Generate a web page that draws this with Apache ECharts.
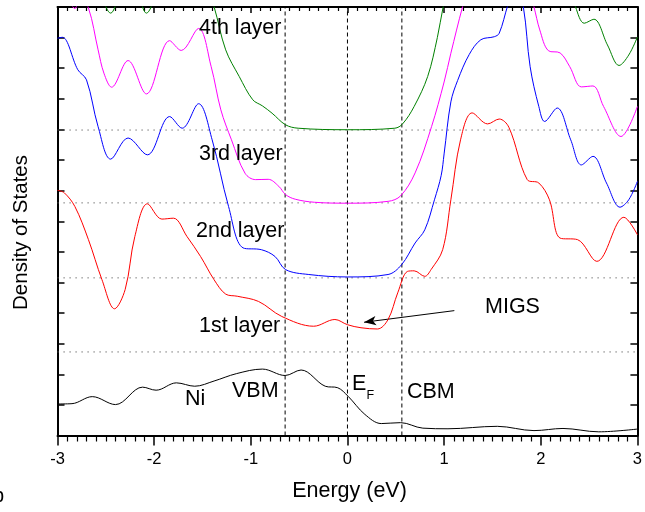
<!DOCTYPE html>
<html>
<head>
<meta charset="utf-8">
<style>html,body{margin:0;padding:0;background:#fff;}#main{width:645px;height:512px;}</style>
<script src="https://cdn.jsdelivr.net/npm/echarts@6/dist/echarts.min.js"></script>
</head>
<body>
<div id="main"></div>
<script>
// Energy axis ticks
const xTicks = [-3, -2, -1, 0, 1, 2, 3];
// Marker energies (eV)
const vbm = -0.645, ef = 0, cbm = 0.563;
// Baselines of the stacked layer curves (DOS units)
const baselines = [9.98, 7.60, 5.15, 2.73];

// Ni bulk DOS
const niCurve = [[-3,1.03],[-2.85,1.04],[-2.64,1.27],[-2.4,1.01],[-2.12,1.58],[-1.98,1.48],[-1.77,1.72],[-1.58,1.61],[-1.38,1.78],[-1.15,2.02],[-0.88,2.17],[-0.645,1.96],[-0.48,2.14],[-0.23,1.61],[-0.1,1.56],[0.007,1.28],[0.18,0.69],[0.35,0.39],[0.55,0.42],[0.78,0.24],[1.04,0.22],[1.55,0.30],[1.93,0.16],[2.23,0.23],[2.6,0.12],[3.0,0.21]];
// 1st layer
const layer1 = [[-3,8.01],[-2.93,7.93],[-2.82,7.48],[-2.68,6.40],[-2.54,5.09],[-2.41,4.14],[-2.3,4.77],[-2.2,6.50],[-2.07,7.57],[-1.92,7.07],[-1.8,7.10],[-1.66,6.50],[-1.52,5.85],[-1.38,5.09],[-1.26,4.62],[-1.14,4.55],[-0.92,4.38],[-0.68,3.89],[-0.35,3.57],[-0.13,3.79],[0,3.62],[0.14,3.52],[0.31,3.48],[0.42,3.79],[0.52,4.66],[0.62,5.36],[0.69,5.38],[0.80,5.20],[0.865,5.42],[0.985,6.07],[1.07,7.70],[1.17,9.66],[1.29,10.54],[1.45,10.18],[1.57,10.34],[1.67,10.07],[1.86,8.36],[1.98,8.25],[2.09,7.70],[2.2,6.45],[2.38,6.40],[2.58,5.69],[2.86,7.13],[3.0,6.56]];
// 2nd layer
const layer2 = [[-3,12.98],[-2.95,13.01],[-2.79,11.95],[-2.70,11.62],[-2.58,10.09],[-2.45,9.03],[-2.27,9.72],[-2.07,9.17],[-1.84,10.42],[-1.71,10.04],[-1.54,10.84],[-1.40,9.66],[-1.23,7.48],[-1.08,6.13],[-0.89,6.07],[-0.75,5.85],[-0.64,5.42],[-0.40,5.26],[0,5.18],[0.42,5.26],[0.56,5.58],[0.70,6.29],[0.80,6.72],[0.90,7.70],[0.97,8.5],[1.0,9.2],[1.07,10.9],[1.14,11.6],[1.26,12.45],[1.38,12.93],[1.52,13.03],[1.57,13.14],[1.66,14.07],[1.74,14.8],[1.82,14.0],[1.89,12.05],[1.98,10.75],[2.04,10.26],[2.17,10.70],[2.31,9.66],[2.42,8.84],[2.54,9.12],[2.68,8.25],[2.82,7.46],[2.91,7.70],[3.0,8.30]];
// 3rd layer
const layer3 = [[-3,15.5],[-2.9,14.5],[-2.82,13.95],[-2.76,14.25],[-2.68,13.97],[-2.58,12.6],[-2.52,11.84],[-2.44,11.38],[-2.27,12.25],[-2.08,11.16],[-1.84,12.90],[-1.72,12.58],[-1.54,13.30],[-1.41,12.05],[-1.31,10.64],[-1.20,9.66],[-1.06,8.57],[-0.95,8.36],[-0.82,8.37],[-0.71,8.14],[-0.64,7.87],[-0.54,7.72],[-0.34,7.62],[0,7.59],[0.42,7.65],[0.55,7.83],[0.70,8.58],[0.87,10.09],[1.0,11.55],[1.07,12.49],[1.19,14.0],[1.3,15.2],[1.8,15.5],[1.93,14.0],[1.99,13.25],[2.08,12.57],[2.2,12.5],[2.3,12.05],[2.42,11.39],[2.54,11.42],[2.65,10.75],[2.83,9.77],[3.0,10.75]];
// 4th layer
const layer4 = [[-3,17],[-2.7,15.5],[-2.55,14.4],[-2.45,13.8],[-2.35,14.4],[-2.26,14.7],[-2.17,14.4],[-2.08,13.8],[-1.98,14.4],[-1.8,15.8],[-1.55,15.5],[-1.45,14.6],[-1.38,14.01],[-1.26,12.6],[-1.12,11.73],[-0.98,10.97],[-0.88,10.77],[-0.78,10.53],[-0.64,10.15],[-0.51,10.04],[0,9.99],[0.49,10.04],[0.57,10.18],[0.69,10.75],[0.83,11.73],[0.93,13.0],[0.99,14.0],[1.1,15.5],[2.2,15.5],[2.36,14.0],[2.45,13.47],[2.55,13.6],[2.69,12.76],[2.81,12.09],[2.91,12.43],[3.0,13.02]];
// MIGS arrow (from, to) in data coords
const migsArrow = [[1.106, 4.08], [0.172, 3.70]];

const FONT = "'Liberation Sans', Arial, Helvetica, sans-serif";
const chart = echarts.init(document.getElementById('main'), null, {renderer: 'canvas'});

function curve(data, color, extra) {
  return Object.assign({
    type: 'line', data: data, showSymbol: false, symbol: 'none', smooth: 0.35,
    lineStyle: {color: color, width: 1}, xAxisIndex: 0, yAxisIndex: 0,
    clip: true, silent: true, z: 5
  }, extra || {});
}

const series = [];
baselines.forEach(function (b) {
  series.push({type: 'line', data: [[-3, b], [3, b]], symbol: 'none', silent: true,
    lineStyle: {color: '#555', width: 1, type: [1.2, 4.8]}, z: 2});
});
[vbm, ef, cbm].forEach(function (v) {
  series.push({type: 'line', data: [[v, 0], [v, 14]], symbol: 'none', silent: true,
    lineStyle: {color: '#000', width: 1, type: [4, 3]}, z: 3});
});
series.push(curve(niCurve, '#000000'));
series.push(curve(layer1, '#ff0000', {
  markLine: {
    silent: true, animation: false,
    symbol: ['none', 'arrow'], symbolSize: [7, 12],
    label: {show: false},
    lineStyle: {color: '#000', width: 1, type: 'solid'},
    data: [[{coord: migsArrow[0]}, {coord: migsArrow[1]}]]
  }
}));
series.push(curve(layer2, '#0000ff'));
series.push(curve(layer3, '#ff00ff'));
series.push(curve(layer4, '#008000'));

function txt(text, x, y, size, align) {
  return {type: 'text', x: x, y: y, z: 100, silent: true,
    style: {text: text, fill: '#000', fontSize: size, fontFamily: FONT,
      align: align || 'left', verticalAlign: 'middle'}};
}

const axisLineStyle = {color: '#000', width: 2};
chart.setOption({
  animation: false,
  backgroundColor: '#fff',
  grid: {left: 57.5, right: 4.5, top: 7, bottom: 76.5, containLabel: false},
  xAxis: [
    {type: 'value', min: -3, max: 3, interval: 1, position: 'bottom',
      axisLine: {show: true, onZero: false, lineStyle: axisLineStyle},
      axisTick: {show: true, inside: false, length: 10, lineStyle: {color: '#000', width: 1.5}},
      minorTick: {show: true, splitNumber: 10, length: 6, lineStyle: {color: '#000', width: 1.2}},
      axisLabel: {show: true, color: '#000', fontSize: 16.5, fontFamily: FONT, margin: 15,
        formatter: function (v) { return xTicks.indexOf(v) >= 0 ? String(v) : ''; }},
      splitLine: {show: false}, minorSplitLine: {show: false}},
    {type: 'value', min: -3, max: 3, interval: 1, position: 'top',
      axisLine: {show: true, onZero: false, lineStyle: axisLineStyle},
      axisTick: {show: true, inside: true, length: 6, lineStyle: {color: '#000', width: 1.5}},
      minorTick: {show: true, splitNumber: 10, length: 4, lineStyle: {color: '#000', width: 1.2}},
      axisLabel: {show: false}, splitLine: {show: false}}
  ],
  yAxis: [
    {type: 'value', min: 0, max: 14, interval: 1, position: 'left',
      axisLine: {show: true, onZero: false, lineStyle: axisLineStyle},
      axisTick: {show: true, inside: true, length: 7, lineStyle: {color: '#000', width: 1.5}},
      axisLabel: {show: false}, splitLine: {show: false}},
    {type: 'value', min: 0, max: 14, interval: 1, position: 'right',
      axisLine: {show: true, onZero: false, lineStyle: axisLineStyle},
      axisTick: {show: true, inside: true, length: 7, lineStyle: {color: '#000', width: 1.5}},
      axisLabel: {show: false}, splitLine: {show: false}}
  ],
  series: series,
  graphic: [
    txt('4th layer', 199, 28, 21.5),
    txt('3rd layer', 199, 154, 21.5),
    txt('2nd layer', 196, 231, 21.5),
    txt('1st layer', 199, 326, 21.5),
    txt('Ni', 185, 399, 21.5),
    txt('VBM', 232, 391, 21.5),
    txt('E', 352, 384, 21.5),
    txt('F', 366.5, 396, 12.5),
    txt('CBM', 407, 392, 21.5),
    txt('MIGS', 485, 307, 21.5),
    txt('Energy (eV)', 349.5, 491, 21.5, 'center'),
    {type: 'text', x: 21, y: 232.5, rotation: Math.PI / 2, z: 100, silent: true,
      style: {text: 'Density of States', fill: '#000', fontSize: 20.5, fontFamily: FONT,
        align: 'center', verticalAlign: 'middle'}},
    txt('b', 4, 496, 20, 'right')
  ]
});
</script>
</body>
</html>
